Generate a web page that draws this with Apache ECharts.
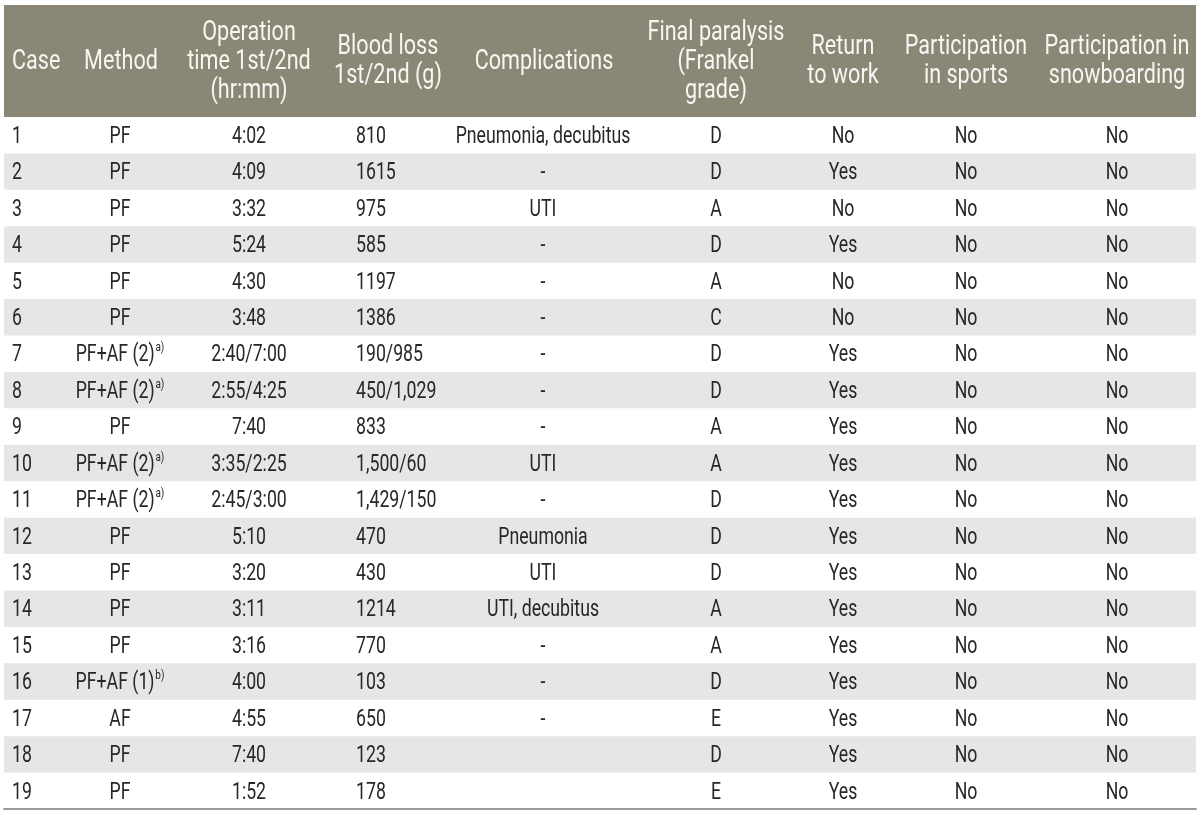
<!DOCTYPE html>
<html>
<head>
<meta charset="utf-8">
<script src="https://cdn.jsdelivr.net/npm/echarts@6/dist/echarts.min.js"></script>
<style>
html,body{margin:0;padding:0;background:#fff;}
#chart{width:1200px;height:817px;}
</style>
</head>
<body>
<div id="chart"></div>
<script>
// ---- data ----
const headers = ['Case', 'Method', 'Operation\ntime 1st/2nd\n(hr:mm)', 'Blood loss\n1st/2nd (g)', 'Complications', 'Final paralysis\n(Frankel\ngrade)', 'Return\nto work', 'Participation\nin sports', 'Participation in\nsnowboarding'];
const cases = ['1','2','3','4','5','6','7','8','9','10','11','12','13','14','15','16','17','18','19'];
const methods = ['PF','PF','PF','PF','PF','PF','PF+AF (2)','PF+AF (2)','PF','PF+AF (2)','PF+AF (2)','PF','PF','PF','PF','PF+AF (1)','AF','PF','PF'];
const methodNotes = ['','','','','','','a)','a)','','a)','a)','','','','','b)','','',''];
const opTimes = ['4:02','4:09','3:32','5:24','4:30','3:48','2:40/7:00','2:55/4:25','7:40','3:35/2:25','2:45/3:00','5:10','3:20','3:11','3:16','4:00','4:55','7:40','1:52'];
const bloodLoss = ['810','1615','975','585','1197','1386','190/985','450/1,029','833','1,500/60','1,429/150','470','430','1214','770','103','650','123','178'];
const complications = ['Pneumonia, decubitus','-','UTI','-','-','-','-','-','-','UTI','-','Pneumonia','UTI','UTI, decubitus','-','-','-','',''];
const frankel = ['D','D','A','D','A','C','D','D','A','A','D','D','D','A','A','D','E','D','E'];
const returnWork = ['No','Yes','No','Yes','No','No','Yes','Yes','Yes','Yes','Yes','Yes','Yes','Yes','Yes','Yes','Yes','Yes','Yes'];
const sports = ['No','No','No','No','No','No','No','No','No','No','No','No','No','No','No','No','No','No','No'];
const snowboarding = ['No','No','No','No','No','No','No','No','No','No','No','No','No','No','No','No','No','No','No'];

// ---- layout (not data) ----
const FONT = "Roboto,'DejaVu Sans',sans-serif";
const WEIGHT = 'normal';
const TABLE_W = 1192;
const headerPos = [{x:8,align:'left'},{x:117},{x:245},{x:384},{x:540},{x:712},{x:839},{x:962},{x:1113}];
const bodyPos = [{x:8,align:'left'},{x:116},{x:245},{x:352,align:'left'},{x:539},{x:712},{x:839},{x:962},{x:1113}];
const BODY_SIZE = 23, HEAD_SIZE = 27, SX_BODY = 0.77, SX_HEAD = 0.8;
const TEXT_COLOR = '#2a2627';

const columns = [cases, methods, opTimes, bloodLoss, complications, frankel, returnWork, sports, snowboarding];

const chart = echarts.init(document.getElementById('chart'), null, {renderer:'canvas'});

function headerRender(params, api) {
  const y = api.coord([0, 0])[1];
  const h = api.size([0, 1])[1];
  const x0 = api.coord([0, 0])[0];
  const x1 = api.coord([TABLE_W, 0])[0];
  const children = [{
    type: 'rect', shape: {x: x0, y: y - h/2, width: x1 - x0, height: h},
    style: {fill: '#8a8776'}, silent: true
  }];
  headers.forEach((t, c) => {
    children.push({
      type: 'text', silent: true,
      x: api.coord([headerPos[c].x, 0])[0], y: y + 1, scaleX: SX_HEAD,
      style: {
        text: t, x: 0, y: 0,
        align: headerPos[c].align || 'center', verticalAlign: 'middle',
        fontFamily: FONT, fontWeight: WEIGHT, fontSize: HEAD_SIZE, lineHeight: 29, fill: '#f7f7f2'
      }
    });
  });
  return {type: 'group', children};
}

function bodyRender(params, api) {
  const row = api.value(1);
  const y = api.coord([0, row])[1];
  const h = api.size([0, 1])[1];
  const x0 = api.coord([0, row])[0];
  const x1 = api.coord([TABLE_W, row])[0];
  const children = [];
  if (row % 2 === 1) {
    children.push({type: 'rect', silent: true, shape: {x: x0, y: y - h/2, width: x1 - x0, height: h}, style: {fill: '#e6e6e6'}});
  }
  columns.forEach((col, c) => {
    const txt = col[row];
    if (!txt) return;
    const style = {
      x: 0, y: 0,
      align: bodyPos[c].align || 'center', verticalAlign: 'middle',
      fontFamily: FONT, fontWeight: WEIGHT, fontSize: BODY_SIZE, fill: TEXT_COLOR
    };
    if (c === 1 && methodNotes[row]) {
      style.text = '{n|' + txt + '}{s|' + methodNotes[row] + '}';
      style.rich = {
        n: {fontFamily: FONT, fontWeight: WEIGHT, fontSize: BODY_SIZE, lineHeight: 28, fill: TEXT_COLOR, verticalAlign: 'middle'},
        s: {fontFamily: FONT, fontWeight: WEIGHT, fontSize: 13, lineHeight: 13, fill: TEXT_COLOR, verticalAlign: 'top', padding: [0,0,12,1]}
      };
    } else {
      style.text = txt;
    }
    children.push({type: 'text', silent: true, x: api.coord([bodyPos[c].x, row])[0], y: y + 2, scaleX: SX_BODY, style});
  });
  return {type: 'group', children};
}

chart.setOption({
  animation: false,
  backgroundColor: '#ffffff',
  grid: [
    {left: 4, top: 5, width: TABLE_W, height: 112},
    {left: 4, top: 117, width: TABLE_W, height: 692}
  ],
  xAxis: [
    {type: 'value', gridIndex: 0, min: 0, max: TABLE_W, show: false},
    {type: 'value', gridIndex: 1, min: 0, max: TABLE_W, show: true, position: 'bottom',
     axisLine: {show: true, onZero: false, lineStyle: {color: '#9a9a9a', width: 2}},
     axisTick: {show: false}, axisLabel: {show: false}, splitLine: {show: false}}
  ],
  yAxis: [
    {type: 'category', gridIndex: 0, data: ['header'], show: false},
    {type: 'category', gridIndex: 1, data: cases, inverse: true, show: false}
  ],
  series: [
    {type: 'custom', xAxisIndex: 0, yAxisIndex: 0, renderItem: headerRender, data: [[0, 0]], encode: {x: 0, y: 1}},
    {type: 'custom', xAxisIndex: 1, yAxisIndex: 1, renderItem: bodyRender,
     data: cases.map((c, i) => [0, i]), encode: {x: 0, y: 1}}
  ]
});
</script>
</body>
</html>
